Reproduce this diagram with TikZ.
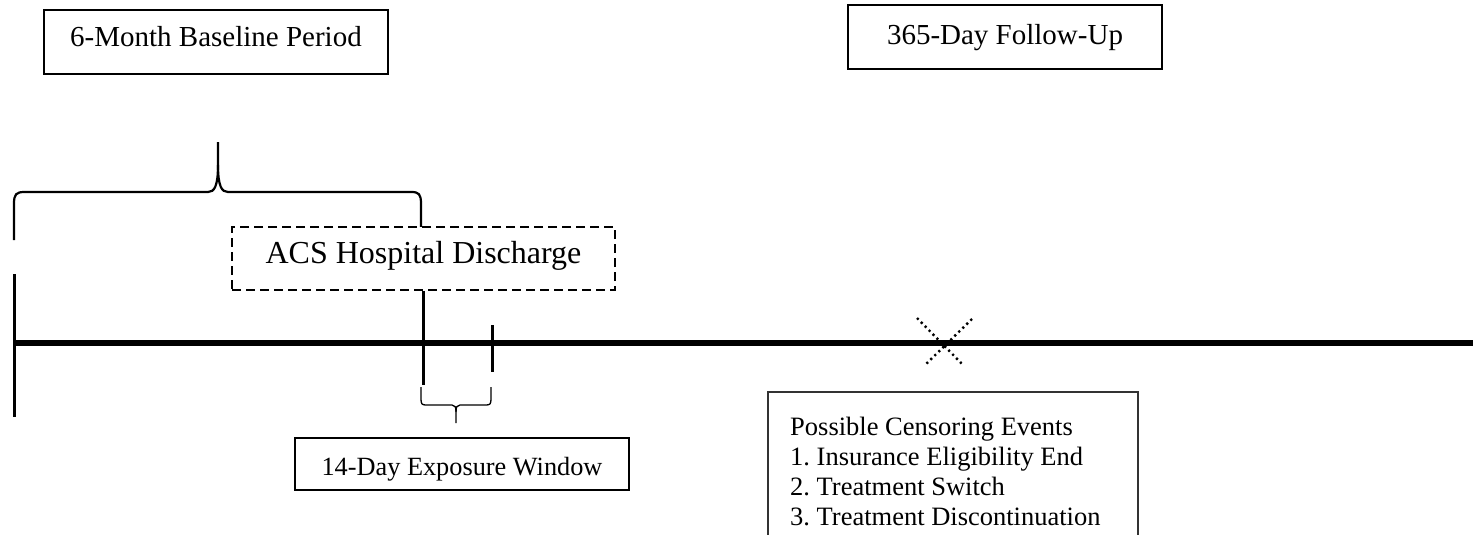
\documentclass[tikz,border=0pt]{standalone}
\usepackage{fontspec}
\setmainfont{Liberation Serif}
\frenchspacing
\begin{document}
\begin{tikzpicture}[x=1pt,y=-1pt,
  titlebox/.style={draw, line width=1.8pt, inner sep=0pt, align=center, fill=white},
  thinbox/.style={draw, line width=1.3pt, inner sep=0pt, align=center, fill=white},
  tickline/.style={line width=3pt, line cap=butt},
  axisline/.style={line width=6pt, line cap=butt},
  bracebig/.style={line width=2.2pt, line cap=butt},
  bracesmall/.style={line width=1.3pt, line cap=butt},
  dotline/.style={line width=2.4pt, line cap=butt, dash pattern=on 2.2pt off 3.4pt}]
\useasboundingbox (0,0) rectangle (1473,535);
\clip (0,0) rectangle (1473,535);

% top boxes
\node[titlebox, minimum width=344pt, minimum height=64pt,
      font=\fontsize{29}{33}\selectfont, text height=19pt, text depth=9pt]
      (baseline) at (216,42) {6-Month Baseline Period};
\node[titlebox, minimum width=314pt, minimum height=64pt,
      font=\fontsize{29}{33}\selectfont, text height=19pt, text depth=3pt]
      (follow) at (1005,37) {365-Day Follow-Up};

% big brace
\coordinate (bbL) at (14,240);
\coordinate (bbR) at (421,240);
\coordinate (bbT) at (218,142);
\draw[bracebig] (bbL) -- (14,204) .. controls (14,194) and (16,192) .. (25,192)
   -- (208,192) .. controls (214,192) and (218,187) .. (218,165) -- (bbT);
\draw[bracebig] (218,165) .. controls (218,187) and (222,192) .. (228,192)
   -- (411,192) .. controls (419,192) and (421,194) .. (421,204) -- (bbR);

% timeline
\coordinate (axL) at (14,343);
\coordinate (axR) at (1473,343);
\draw[axisline] (axL) -- (axR);

% start tick
\coordinate (t0a) at (14,274);
\coordinate (t0b) at (14,417);
\draw[tickline] (t0a) -- (t0b);

% discharge box
\node[titlebox, dashed, dash pattern=on 9pt off 5pt, minimum width=383pt, minimum height=63pt,
      font=\fontsize{32}{36}\selectfont, text height=21pt, text depth=12pt]
      (acs) at (423.5,258.5) {ACS Hospital Discharge};

% discharge tick and 14-day tick
\coordinate (t1b) at (423,385);
\draw[tickline] (acs.south -| t1b) -- (t1b);
\coordinate (t2a) at (492,325);
\coordinate (t2b) at (492,372);
\draw[tickline] (t2a) -- (t2b);

% small brace
\coordinate (sbL) at (421,387);
\coordinate (sbR) at (491,387);
\coordinate (sbT) at (456,423);
\draw[bracesmall] (sbL) -- (421,399) .. controls (421,404) and (422,405) .. (426,405)
   -- (452,405) .. controls (455,405) and (456,407) .. (456,412) -- (sbT);
\draw[bracesmall] (456,412) .. controls (456,407) and (457,405) .. (460,405)
   -- (486,405) .. controls (490,405) and (491,404) .. (491,399) -- (sbR);

% 14-day box
\node[thinbox, minimum width=334pt, minimum height=52pt,
      font=\fontsize{26.3}{30}\selectfont, text height=22pt, text depth=0pt]
      (window) at (462,464) {14-Day Exposure Window};

% censoring mark
\coordinate (xa) at (917,318);
\coordinate (xb) at (963,365);
\coordinate (xc) at (972,319);
\coordinate (xd) at (925,365);
\draw[dotline] (xa) -- (xb);
\draw[dotline] (xc) -- (xd);

% censoring box
\node[draw=black!80, line width=1.3pt, fill=white, inner sep=0pt,
      minimum width=370pt, minimum height=208pt] (censbox) at (953,496) {};
\begin{scope}
\clip (768,392) rectangle (1138,527);
\node[anchor=north west, align=left, inner sep=0pt,
      font=\fontsize{26.5}{30}\selectfont]
      (cens) at (790,417) {Possible Censoring Events\\1. Insurance Eligibility End\\2. Treatment Switch\\3. Treatment Discontinuation};
\end{scope}
\end{tikzpicture}
\end{document}
